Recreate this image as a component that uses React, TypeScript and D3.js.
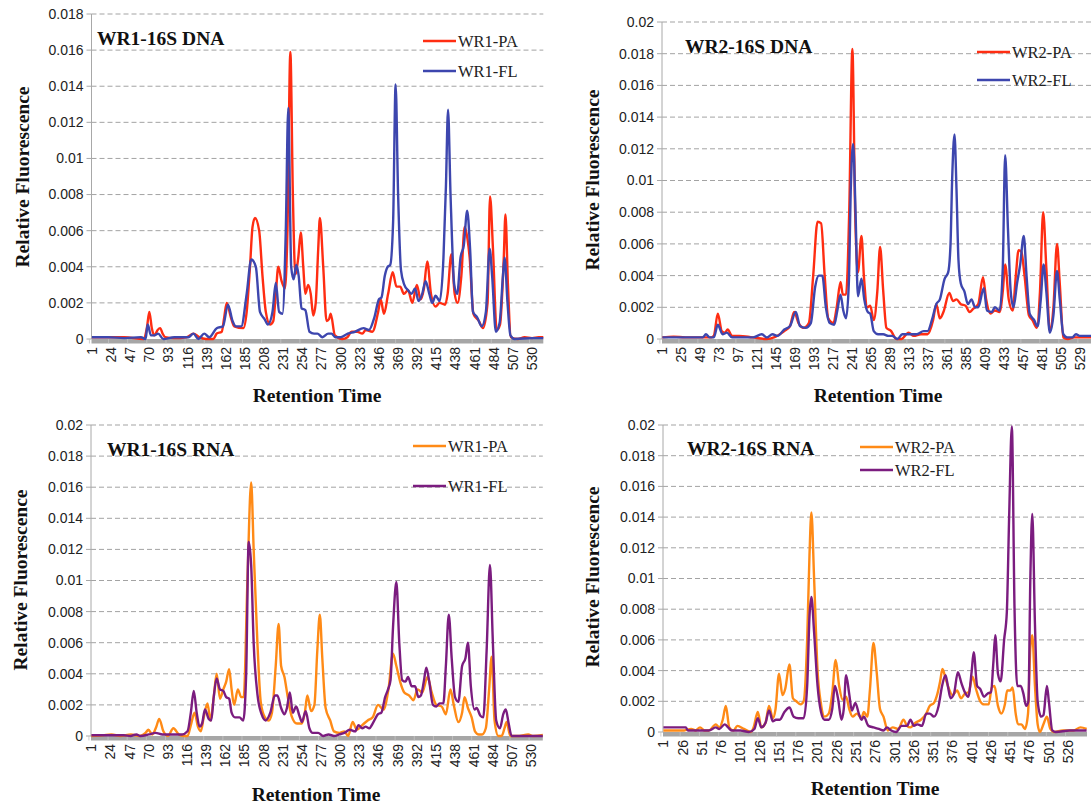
import * as d3 from 'd3';

type Pt = [number, number];

// tick labels of the retention-time axes
const ticksWR1 = [1, 24, 47, 70, 93, 116, 139, 162, 185, 208, 231, 254, 277, 300, 323, 346, 369, 392, 415, 438, 461, 484, 507, 530];
const ticksWR2Dna = [1, 25, 49, 73, 97, 121, 145, 169, 193, 217, 241, 265, 289, 313, 337, 361, 385, 409, 433, 457, 481, 505, 529];
const ticksWR2Rna = [1, 26, 51, 76, 101, 126, 151, 176, 201, 226, 251, 276, 301, 326, 351, 376, 401, 426, 451, 476, 501, 526];

// [retention time, relative fluorescence]
const dnaWr1Pa: Pt[] = [[1,0.0001],[20,0.0001],[40,0.0001],[63,0.0],[67,0.0006],[70,0.0015],[73,0.0006],[76,0.0002],[80,0.0005],[83,0.0006],[86,0.0003],[89,0.0001],[100,0.00005],[115,0.0001],[123,0.0003],[130,0.0001],[138,0.0],[147,0.0],[151,0.0003],[157,0.0004],[160,0.0012],[163,0.002],[168,0.0012],[172,0.0007],[183,0.0006],[187,0.0015],[191,0.004],[194,0.0062],[197,0.0067],[202,0.006],[206,0.0035],[210,0.0015],[215,0.0008],[219,0.001],[222,0.0025],[225,0.004],[229,0.0032],[233,0.0028],[236,0.006],[239.5,0.0159],[242.5,0.008],[245.5,0.0036],[249,0.0045],[252,0.0059],[255,0.004],[257.5,0.0025],[261,0.003],[264,0.0025],[267,0.0013],[270,0.002],[273,0.005],[275,0.0067],[279,0.004],[283,0.001],[286,0.0011],[288,0.0014],[293,0.0002],[302,0.0],[308,0.0001],[313,0.0004],[320,0.0004],[326,0.0003],[330,0.0005],[338,0.0004],[345,0.0015],[348,0.0022],[352,0.0014],[357,0.0025],[362.5,0.0037],[367,0.0029],[371.5,0.0029],[376,0.0025],[381,0.0027],[386,0.002],[391.5,0.003],[396,0.0022],[400,0.0028],[404,0.0043],[408.5,0.0025],[414,0.0018],[419,0.002],[425.5,0.0019],[428.5,0.0025],[433,0.0047],[437,0.0025],[440.5,0.002],[445,0.0035],[449,0.0062],[452.5,0.0055],[455,0.0045],[459.5,0.0014],[466,0.001],[471,0.0006],[476.5,0.002],[479.5,0.0079],[483,0.005],[487.5,0.0005],[491.5,0.0008],[496,0.0045],[498,0.0069],[501,0.003],[504.5,0.0001],[513,0.0],[521,0.0001],[530,0.00005],[538,0.0001],[547,0.0001]];
const dnaWr1Fl: Pt[] = [[1,0.0001],[20,0.0001],[40,0.00005],[60,0.0001],[65.5,0.0],[68,0.0008],[72,0.0002],[76,0.0002],[80.5,0.0003],[87,0.0],[100,0.0001],[117,0.0001],[123,0.0003],[129,0.0],[136,0.0003],[142,0.0001],[151,0.0006],[158.5,0.0007],[164.5,0.0019],[170,0.001],[174,0.0007],[180.5,0.0007],[187,0.0025],[192.5,0.0044],[198,0.004],[203,0.0015],[208.5,0.0011],[212.5,0.0008],[218,0.0015],[222,0.0031],[226,0.0015],[230,0.0014],[234,0.006],[237,0.0128],[240.5,0.004],[243.5,0.0033],[246.5,0.0041],[249.5,0.0035],[253,0.0017],[257.5,0.0016],[262.5,0.0004],[268,0.0003],[272,0.0003],[278,0.0001],[285,0.0003],[289,0.0003],[293.5,0.0001],[300,0.0001],[308.5,0.0003],[317,0.0004],[327.5,0.0006],[334,0.0005],[340.5,0.0012],[346,0.0022],[349,0.0023],[353,0.0035],[356.5,0.004],[359.5,0.0041],[363,0.0065],[366,0.0141],[369,0.008],[372.5,0.0038],[376.5,0.003],[381,0.0027],[385,0.0025],[389.5,0.0028],[393.5,0.0021],[398,0.0025],[402,0.0032],[406.5,0.0025],[410,0.002],[414,0.0024],[419,0.0021],[423.5,0.0045],[426.5,0.0085],[429,0.0127],[432,0.008],[436.5,0.003],[440,0.0025],[444,0.0045],[448,0.0052],[452,0.0071],[455.5,0.005],[459,0.0015],[464,0.0012],[469.5,0.0007],[474.5,0.0015],[479,0.005],[482,0.0035],[486.5,0.0004],[491,0.0009],[495,0.0035],[497,0.0045],[500.5,0.002],[504,0.0002],[509,0.0],[530,0.00005],[547,0.00005]];

const dnaWr2Pa: Pt[] = [[1,0.0001],[15,0.00015],[30,0.0001],[45,0.0001],[63,0.0001],[66,0.0002],[71,0.0016],[76,0.0005],[80,0.0004],[83.5,0.0006],[89,0.0002],[98,0.0002],[115,0.0001],[133,0.0],[142,0.0001],[155,0.0005],[162,0.0008],[167.5,0.0017],[173,0.001],[179.5,0.0007],[186,0.001],[191.5,0.004],[197,0.0074],[201.5,0.0073],[206,0.004],[210.5,0.0013],[217,0.001],[221.5,0.0021],[226,0.0036],[229,0.0028],[233,0.0028],[237,0.008],[241,0.0183],[244.5,0.008],[248,0.0042],[252.5,0.0065],[255.5,0.004],[260,0.002],[263.5,0.0021],[268,0.0012],[272.5,0.003],[276,0.0058],[280,0.003],[284,0.0007],[290,0.0005],[296.5,0.0],[303,0.0],[312,0.0004],[318.5,0.0002],[327.5,0.0003],[336,0.0003],[343,0.0012],[347,0.0022],[351.5,0.0013],[356,0.0017],[363.5,0.0029],[368,0.0024],[372.5,0.0025],[378,0.0022],[384,0.0021],[389,0.0017],[393.5,0.0019],[400,0.0022],[406,0.0039],[410,0.0025],[415.5,0.0016],[421,0.0018],[427,0.0017],[431,0.003],[434,0.0047],[438.5,0.0025],[443.5,0.0018],[447.5,0.004],[451,0.0056],[454.5,0.0055],[458.5,0.004],[464,0.0015],[468.5,0.0012],[474,0.0007],[478,0.003],[482,0.008],[486,0.0045],[490.5,0.0005],[495,0.002],[499.5,0.006],[503,0.0035],[507.5,0.0001],[513,0.0],[521.5,0.0001],[547,0.0001]];
const dnaWr2Fl: Pt[] = [[1,0.0001],[20,0.0001],[40,0.0001],[52,0.0001],[56,0.0003],[60.5,0.0001],[66,0.0001],[71,0.0009],[77,0.0003],[82.5,0.0004],[89,0.0001],[115.5,0.0001],[126.5,0.0003],[133,0.0001],[140,0.0003],[146.5,0.0002],[155,0.0006],[162,0.0008],[169.5,0.0017],[175,0.0008],[182,0.0007],[188.5,0.001],[194,0.0033],[198.5,0.004],[203,0.004],[207.5,0.002],[212.5,0.001],[218,0.0009],[222,0.0018],[226,0.0028],[229.5,0.0018],[233,0.0013],[236.5,0.0035],[239,0.0095],[242,0.0123],[245,0.008],[248,0.0027],[252.5,0.0038],[256,0.0025],[260.5,0.0017],[263.5,0.0016],[268,0.0005],[273.5,0.0003],[280,0.0003],[286.5,0.0002],[291,0.0002],[298,0.0],[304,0.0003],[313,0.0003],[322,0.0003],[331,0.0005],[336,0.0005],[341.5,0.0012],[347,0.0022],[351.5,0.0025],[357.5,0.0038],[362,0.0042],[365,0.006],[367,0.01],[370,0.0129],[372.5,0.0095],[375,0.005],[378,0.0035],[382.5,0.003],[387,0.0022],[391.5,0.0025],[396,0.002],[400,0.002],[407,0.0032],[411,0.0018],[417,0.0017],[421,0.002],[427,0.0018],[431,0.0045],[434,0.0116],[437.5,0.007],[441,0.003],[444.5,0.002],[449,0.0035],[453,0.0047],[457.5,0.0065],[461,0.004],[465,0.0016],[470.5,0.0012],[475,0.0008],[479,0.0025],[482.5,0.0047],[486,0.003],[490.5,0.0004],[495,0.0015],[499.5,0.0043],[503,0.0025],[507.5,0.0003],[512.5,0.0001],[519,0.0001],[523.5,0.0003],[528,0.0002],[547,0.0002]];

const rnaWr1Pa: Pt[] = [[1,0.0],[15,0.00005],[25,0.0001],[36,0.0],[48.5,0.0001],[59,0.0],[66,0.0002],[69.5,0.0004],[74,0.0001],[79,0.0006],[82.5,0.0011],[87.5,0.0003],[93,0.0],[99.5,0.0005],[106,0.0001],[112,0.0],[116.5,0.0],[120.5,0.0007],[125,0.0015],[129,0.0006],[132.5,0.0003],[136,0.0012],[140.5,0.0021],[144,0.001],[148,0.0025],[151.5,0.004],[155.5,0.0024],[159.5,0.003],[163,0.0035],[166.5,0.0043],[169.5,0.003],[172.5,0.002],[177,0.003],[181,0.0025],[184,0.0025],[188.5,0.01],[193,0.0163],[196,0.012],[200.5,0.006],[204.5,0.0022],[209.5,0.0012],[214,0.001],[218,0.0015],[222.5,0.0045],[226,0.0072],[229,0.0045],[233,0.0038],[237,0.0025],[241.5,0.0013],[248,0.0008],[254,0.0008],[257.5,0.0015],[260.5,0.0026],[265,0.0016],[269,0.002],[272.5,0.0055],[275.5,0.0078],[278.5,0.005],[282.5,0.0018],[288,0.001],[292.5,0.0003],[299,0.0002],[305,0.0003],[309.5,0.0],[315,0.0009],[320,0.0004],[326.5,0.0007],[333,0.001],[339,0.0012],[345.5,0.002],[352,0.0017],[358,0.003],[363.5,0.0053],[367.5,0.0045],[372,0.0035],[377,0.0028],[383,0.0026],[388,0.0023],[393,0.003],[398.5,0.0028],[405,0.0038],[410,0.0028],[415.5,0.002],[422,0.0019],[427,0.0014],[432.5,0.003],[436.5,0.002],[442,0.0009],[446.5,0.0015],[449.5,0.0025],[453.5,0.0018],[458,0.0012],[462,0.0003],[466.5,0.0001],[470.5,0.0001],[475,0.0005],[479,0.003],[482,0.0051],[485.5,0.001],[490,0.0],[494,0.0],[497.5,0.0005],[500,0.0009],[504.5,0.0],[515,0.0],[526,0.0001],[532,0.0],[547,0.0001]];
const rnaWr1Fl: Pt[] = [[1,0.00005],[20,0.00005],[40,0.00005],[48,0.0],[55,0.0001],[60,0.0],[70,0.0001],[78,0.0002],[86.5,0.0001],[95,0.0001],[104,0.0001],[110,0.0001],[116.5,0.0003],[120.5,0.0015],[124,0.0029],[127.5,0.0015],[131,0.0006],[134,0.0008],[137.5,0.0017],[142,0.0011],[145,0.001],[148,0.0025],[151.5,0.0037],[155.5,0.003],[159.5,0.0029],[163,0.0025],[166.5,0.0024],[169.5,0.0015],[173.5,0.0012],[179,0.0012],[183.5,0.001],[187,0.004],[190,0.0125],[193,0.011],[196,0.006],[200.5,0.0027],[205.5,0.0014],[210.5,0.001],[216,0.0015],[221.5,0.0026],[224.5,0.0026],[229,0.0018],[233,0.0014],[236,0.0018],[239.5,0.0028],[243,0.0015],[247,0.0019],[251,0.0013],[254,0.0009],[258.5,0.0016],[263,0.0005],[267,0.0002],[273.5,0.0002],[279.5,0.0],[286,0.0001],[292.5,0.0],[299,0.0001],[305,0.0002],[311.5,0.0004],[318,0.0003],[322,0.0007],[326.5,0.0005],[330.5,0.0006],[335,0.0005],[339,0.0008],[345.5,0.0014],[349.5,0.0015],[354,0.0025],[357.5,0.003],[360.5,0.0036],[363.5,0.007],[367.5,0.0099],[371,0.006],[374.5,0.0036],[378.5,0.0035],[381.5,0.0038],[386,0.0032],[390,0.0032],[394,0.0025],[397,0.0026],[400.5,0.0035],[403.5,0.0044],[407,0.0035],[411.5,0.002],[415.5,0.0019],[419.5,0.0021],[424,0.0021],[427,0.0045],[430.5,0.0078],[434,0.005],[438,0.0025],[442,0.0022],[446.5,0.0045],[450.5,0.005],[453.5,0.006],[457,0.0032],[461.5,0.0017],[464,0.0018],[468.5,0.0013],[472,0.0012],[476,0.0055],[480,0.011],[483.5,0.006],[487.5,0.001],[492,0.0005],[496,0.0014],[499,0.0017],[502.5,0.0008],[506,0.0],[547,0.0]];

const rnaWr2Pa: Pt[] = [[1,0.0001],[15,0.0001],[28,0.0001],[37,0.0002],[43,0.0001],[48.5,0.0003],[54,0.0001],[60,0.0001],[69,0.0005],[73.5,0.0003],[78,0.0008],[82,0.0017],[86.5,0.0003],[92,0.0001],[97,0.0004],[105.5,0.0002],[114.5,0.0],[118,0.0003],[123.5,0.0013],[128,0.0003],[133.5,0.0006],[138,0.0017],[143,0.0009],[146.5,0.0015],[151,0.0038],[155.5,0.0024],[159,0.0028],[164.5,0.0044],[169,0.0022],[173.5,0.002],[179,0.0018],[183,0.002],[187.5,0.006],[190.5,0.0115],[193,0.0143],[196.5,0.01],[201,0.004],[205.5,0.0018],[210,0.001],[215.5,0.0012],[220,0.0025],[224.5,0.0047],[229,0.003],[233.5,0.0021],[238,0.0023],[242,0.0015],[246.5,0.001],[252,0.0012],[258,0.0009],[261,0.0013],[265.5,0.001],[269,0.0028],[273.5,0.0058],[277.5,0.004],[282,0.0015],[286.5,0.001],[292,0.0001],[298.5,0.0003],[305.5,0.0002],[312.5,0.0008],[317,0.0004],[321.5,0.0003],[328,0.0006],[335,0.0008],[342,0.0012],[346.5,0.0017],[352,0.0019],[356.5,0.0025],[360,0.0033],[363,0.0041],[367,0.0035],[371.5,0.0028],[376,0.0024],[382,0.0027],[387,0.0022],[392,0.0025],[397,0.0026],[402,0.0036],[406.5,0.0028],[412,0.002],[417,0.0018],[423,0.0018],[427,0.0029],[430.5,0.003],[435,0.0017],[439.5,0.0012],[444,0.0018],[447,0.0027],[451,0.0027],[454,0.0029],[458,0.0012],[461,0.0005],[465.5,0.0005],[470,0.0002],[474,0.0012],[477,0.0055],[479.5,0.0063],[483,0.003],[486.5,0.0005],[489.5,0.0],[494,0.0005],[498.5,0.001],[503,0.0002],[508,0.0],[519,0.0001],[533,0.0001],[542,0.0003],[550,0.0002]];
const rnaWr2Fl: Pt[] = [[1,0.0003],[15,0.0003],[30,0.0003],[33,0.0001],[46.5,0.0001],[60,0.0001],[69,0.0003],[73.5,0.0002],[80.5,0.0005],[85,0.0003],[89.5,0.0001],[101,0.0001],[112,0.0],[119,0.0002],[123.5,0.0009],[128,0.0003],[133.5,0.0006],[138,0.0014],[143,0.0007],[147,0.0008],[152,0.0008],[158,0.0013],[164.5,0.0016],[170,0.001],[176,0.0009],[183,0.0009],[187.5,0.003],[190.5,0.0075],[193,0.0088],[196.5,0.0065],[201,0.003],[205.5,0.0013],[210,0.0008],[215.5,0.0008],[220,0.0015],[223.5,0.003],[227.5,0.0022],[232,0.0008],[235,0.0015],[238,0.0037],[242,0.0025],[245.5,0.0014],[250,0.0019],[254.5,0.0012],[258,0.0008],[261,0.001],[267,0.0004],[273.5,0.0003],[280.5,0.0002],[286.5,0.0001],[291,0.0003],[296.5,0.0001],[303,0.0],[310,0.0004],[317,0.0004],[321.5,0.0008],[326,0.0004],[330.5,0.0005],[336.5,0.0004],[342,0.0012],[346.5,0.0012],[352,0.001],[358,0.0017],[362.5,0.003],[367,0.0037],[370,0.003],[373.5,0.0022],[378,0.0025],[383,0.0039],[387.5,0.0032],[392,0.0026],[396.5,0.0023],[401,0.004],[403.5,0.0052],[408,0.003],[412,0.0028],[417,0.0023],[421.5,0.0025],[426,0.0026],[429,0.0045],[431.5,0.0063],[435,0.0038],[438.5,0.0033],[443,0.006],[446.5,0.0078],[449.5,0.014],[453,0.0199],[456.5,0.008],[460,0.003],[464.5,0.003],[468,0.0025],[471.5,0.0017],[474.5,0.002],[477,0.01],[479.5,0.0142],[483,0.007],[486.5,0.002],[491,0.001],[494,0.0011],[498.5,0.003],[501,0.002],[505.5,0.0001],[510,0.0],[528,0.0001],[550,0.0001]];

const RED = '#ff2d12';
const BLUE = '#3d46ae';
const ORANGE = '#ff8a16';
const PURPLE = '#7b1c7f';

const SANS = '"Liberation Sans", Arial, sans-serif';
const SERIF = '"Liberation Serif", "Times New Roman", serif';

interface PanelCfg {
  id: string;
  title: string;
  names: [string, string];
  series: [Pt[], Pt[]];
  colors: [string, string];
  ticks: number[];
  n: number;
  yMax: number;
  x0: number; x1: number; yZero: number; yTop: number;
  titlePos: [number, number];
  legend: { x: number; y1: number; y2: number };
  yLabelPos: [number, number];
  xLabelPos: [number, number];
}

const panels: PanelCfg[] = [
  {
    id: 'p1', title: 'WR1-16S DNA', names: ['WR1-PA', 'WR1-FL'], series: [dnaWr1Pa, dnaWr1Fl], colors: [RED, BLUE],
    ticks: ticksWR1, n: 543, yMax: 0.018, x0: 91.5, x1: 543.3, yZero: 339, yTop: 14,
    titlePos: [97, 38], legend: { x: 423, y1: 41, y2: 71 }, yLabelPos: [22, 177], xLabelPos: [317, 395],
  },
  {
    id: 'p2', title: 'WR2-16S DNA', names: ['WR2-PA', 'WR2-FL'], series: [dnaWr2Pa, dnaWr2Fl], colors: [RED, BLUE],
    ticks: ticksWR2Dna, n: 547, yMax: 0.02, x0: 662, x1: 1095, yZero: 339, yTop: 22,
    titlePos: [685, 46], legend: { x: 977, y1: 52, y2: 80 }, yLabelPos: [592, 180], xLabelPos: [878, 395],
  },
  {
    id: 'p3', title: 'WR1-16S RNA', names: ['WR1-PA', 'WR1-FL'], series: [rnaWr1Pa, rnaWr1Fl], colors: [ORANGE, PURPLE],
    ticks: ticksWR1, n: 543, yMax: 0.02, x0: 91, x1: 542.8, yZero: 736, yTop: 425,
    titlePos: [107, 449], legend: { x: 413, y1: 446, y2: 486 }, yLabelPos: [20, 580], xLabelPos: [316, 794],
  },
  {
    id: 'p4', title: 'WR2-16S RNA', names: ['WR2-PA', 'WR2-FL'], series: [rnaWr2Pa, rnaWr2Fl], colors: [ORANGE, PURPLE],
    ticks: ticksWR2Rna, n: 550, yMax: 0.02, x0: 663, x1: 1087, yZero: 732, yTop: 425,
    titlePos: [687, 448], legend: { x: 860, y1: 447, y2: 470 }, yLabelPos: [592, 577], xLabelPos: [875, 788],
  },
];

const fmt = (v: number) => String(+v.toFixed(3));

function Panel({ p }: { p: PanelCfg }) {
  const x = d3.scaleLinear().domain([0.5, p.n + 0.5]).range([p.x0, p.x1]);
  const y = d3.scaleLinear().domain([0, p.yMax]).range([p.yZero, p.yTop]);
  const yTicks = y.ticks(Math.round(p.yMax / 0.002));
  const gridRight = Math.min(p.x1, 1091);

  const line = d3.line<Pt>()
    .x(d => x(d[0]))
    .y(d => y(d[1]))
    .curve(d3.curveMonotoneX);

  return (
    <g>
      <defs>
        <clipPath id={`clip-${p.id}`}>
          <rect x={p.x0} y={p.yTop - 6} width={p.x1 - p.x0} height={p.yZero - p.yTop + 8} />
        </clipPath>
      </defs>

      {/* dashed gridlines */}
      {yTicks.filter(v => v > 0).map(v => (
        <line key={v} x1={p.x0} x2={gridRight} y1={y(v)} y2={y(v)}
          stroke="#a3a3a3" strokeWidth={1} strokeDasharray="5,3" />
      ))}

      {/* y axis */}
      <line x1={p.x0} x2={p.x0} y1={p.yTop} y2={p.yZero} stroke="#a8a8a8" strokeWidth={1} />
      {yTicks.map(v => (
        <g key={v}>
          <line x1={p.x0 - 5} x2={p.x0} y1={y(v)} y2={y(v)} stroke="#a8a8a8" />
          <text x={p.x0 - 8} y={y(v)} dy="0.35em" textAnchor="end" fontFamily={SANS} fontSize={14} fill="#222">
            {fmt(v)}
          </text>
        </g>
      ))}

      {/* thick category axis */}
      <rect x={p.x0} y={p.yZero} width={p.x1 - p.x0} height={4.5} fill="#a6a6a6" />
      {p.ticks.map(t => (
        <line key={t} x1={x(t) - 2.5} x2={x(t) - 2.5} y1={p.yZero} y2={p.yZero + 4.5} stroke="#c4c4c4" strokeWidth={0.8} />
      ))}
      {p.ticks.map(t => (
        <text key={t} transform={`translate(${x(t)},${p.yZero + 8}) rotate(-90)`} dy="0.35em"
          textAnchor="end" fontFamily={SANS} fontSize={14} fill="#222">
          {t}
        </text>
      ))}

      {/* series */}
      <g clipPath={`url(#clip-${p.id})`}>
        {p.series.map((s, i) => (
          <path key={i} d={line(s) ?? ''} fill="none" stroke={p.colors[i]} strokeWidth={2.4} strokeLinejoin="round" />
        ))}
      </g>

      {/* titles */}
      <text x={p.titlePos[0]} y={p.titlePos[1]} dy="0.35em" fontFamily={SERIF} fontWeight="bold" fontSize={19.5} fill="#111">
        {p.title}
      </text>
      <text transform={`translate(${p.yLabelPos[0]},${p.yLabelPos[1]}) rotate(-90)`} dy="0.35em" textAnchor="middle"
        fontFamily={SERIF} fontWeight="bold" fontSize={19.5} fill="#111">
        Relative Fluorescence
      </text>
      <text x={p.xLabelPos[0]} y={p.xLabelPos[1]} dy="0.35em" textAnchor="middle"
        fontFamily={SERIF} fontWeight="bold" fontSize={19.5} fill="#111">
        Retention Time
      </text>

      {/* legend */}
      {[p.legend.y1, p.legend.y2].map((ly, i) => (
        <g key={i}>
          <line x1={p.legend.x} x2={p.legend.x + 33} y1={ly} y2={ly} stroke={p.colors[i]} strokeWidth={2.6} />
          <text x={p.legend.x + 35} y={ly} dy="0.35em" fontFamily={SERIF} fontSize={16.5} fill="#222">
            {p.names[i]}
          </text>
        </g>
      ))}
    </g>
  );
}

export default function App() {
  return (
    <div style={{ position: 'absolute', left: 0, top: 0, width: 1091, height: 808, overflow: 'hidden', background: '#fff' }}>
      <svg width={1091} height={808} viewBox="0 0 1091 808" style={{ display: 'block' }}>
        <rect width={1091} height={808} fill="#fff" />
        {panels.map(p => <Panel key={p.id} p={p} />)}
      </svg>
    </div>
  );
}
